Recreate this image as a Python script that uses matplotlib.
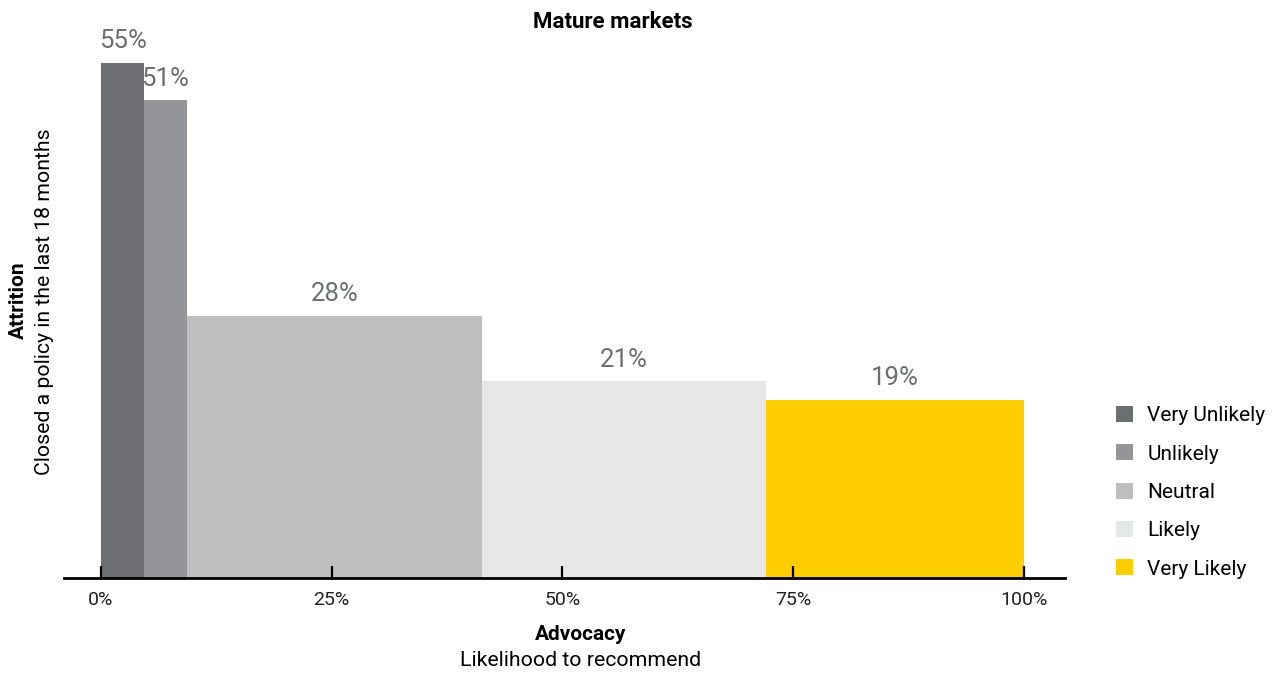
import matplotlib
matplotlib.use("Agg")
import matplotlib.pyplot as plt
from matplotlib.patches import Patch

plt.rcParams['font.family'] = ['Roboto', 'DejaVu Sans']

categories = ['Very Unlikely', 'Unlikely', 'Neutral', 'Likely', 'Very Likely']
shares = [4.7, 4.6, 32.0, 30.8, 27.9]      # width of each group, % of respondents
attrition = [55, 51, 28, 21, 19]           # % closed a policy
colors = ['#6d6e71', '#939598', '#bcbec0', '#e6e7e8', '#fecd00']
ticks = [0, 25, 50, 75, 100]

fig = plt.figure(figsize=(12.82, 6.74), dpi=100)
ax = fig.add_axes([0.0499, 0.1424, 0.781, 0.834])

lefts = []
pos = 0
for w in shares:
    lefts.append(pos)
    pos += w

ax.bar(lefts, attrition, width=shares, align='edge', color=colors, linewidth=0)

for l, w, v in zip(lefts, shares, attrition):
    ax.annotate(f'{v}%', (l + w / 2, v), xytext=(0, 7), textcoords='offset points',
                ha='center', va='bottom', fontsize=18.5, color='#6d6e71')

ax.set_xlim(-4, 104.5)
ax.set_ylim(0, 60)
ax.set_xticks(ticks)
ax.set_xticklabels([f'{t}%' for t in ticks], fontsize=14, color='#222222')
ax.tick_params(axis='x', direction='in', length=9, width=1.6, pad=9, color='black')
ax.set_yticks([])
for s in ['top', 'right', 'left']:
    ax.spines[s].set_visible(False)
ax.spines['bottom'].set_linewidth(2)

fig.text(0.478, 0.968, 'Mature markets', ha='center', va='center',
         fontsize=16, fontweight='bold')
fig.text(0.453, 0.059, 'Advocacy', ha='center', va='center', fontsize=15, fontweight='bold')
fig.text(0.453, 0.020, 'Likelihood to recommend', ha='center', va='center', fontsize=15.3)
fig.text(0.014, 0.555, 'Attrition', ha='center', va='center', rotation=90,
         fontsize=15, fontweight='bold')
fig.text(0.035, 0.553, 'Closed a policy in the last 18 months', ha='center', va='center',
         rotation=90, fontsize=15.3)

handles = [Patch(facecolor=c, edgecolor='none') for c in colors]
fig.legend(handles, categories, loc='upper left', bbox_to_anchor=(0.864, 0.41),
           frameon=False, fontsize=15, handlelength=0.8, handleheight=0.8,
           handletextpad=0.7, labelspacing=0.92, borderaxespad=0)

fig.savefig('out.png', dpi=100)
